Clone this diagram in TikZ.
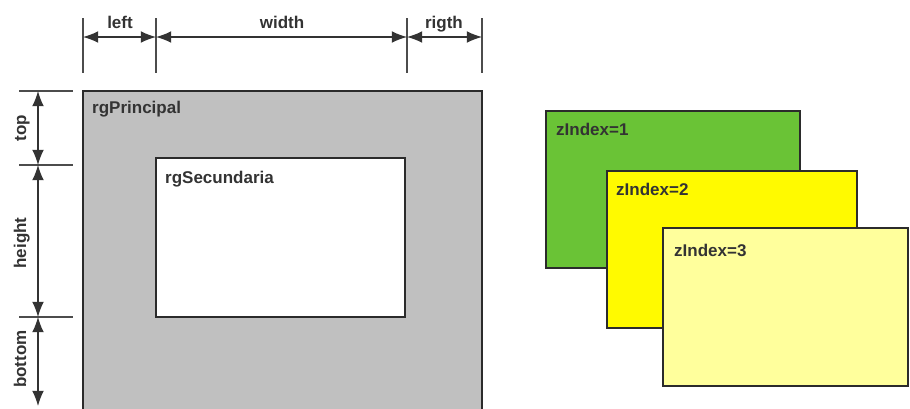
\documentclass[tikz,border=0pt]{standalone}
\usepackage{fontspec}
\setmainfont{Liberation Sans}
\usetikzlibrary{arrows.meta}

\definecolor{borde}{HTML}{2B2B2B}
\definecolor{texto}{HTML}{333333}
\definecolor{gris}{HTML}{C0C0C0}
\definecolor{verde}{HTML}{6AC336}
\definecolor{amarillo}{HTML}{FFFA00}
\definecolor{crema}{HTML}{FFFF9C}

\begin{document}
\begin{tikzpicture}[x=0.03cm, y=-0.03cm,
    caja/.style={draw=borde, line width=2pt},
    rotulo/.style={font=\bfseries\fontsize{14.5}{16}\selectfont, text=texto, inner sep=0pt},
    cota/.style={{Latex[length=13pt,width=10pt]}-{Latex[length=13pt,width=10pt]}, draw=texto, line width=1pt},
    guia/.style={draw=gray!60!black, line width=1.5pt}]

        \useasboundingbox (0,0) rectangle (910,408);

        % regiones principal y secundaria
        \draw[caja, fill=gris] (83,91) rectangle (482,420);
        \draw[caja, fill=white] (156,158) rectangle (405,317);
        \node[rotulo, anchor=base west] (principal) at (92,113) {rgPrincipal};
        \node[rotulo, anchor=base west] (secundaria) at (165,183) {rgSecundaria};

        % líneas guía horizontales (arriba)
        \foreach \n/\x in {a/83, b/156, c/407, d/482} {
            \coordinate (h\n) at (\x,37);
            \draw[guia] (\x,18) -- (\x,73);
        }
        % líneas guía verticales (izquierda)
        \foreach \n/\y in {a/91, b/165, c/317} {
            \coordinate (v\n) at (38,\y);
            \draw[guia] (19,\y) -- (73,\y);
        }
        \coordinate (vd) at (38,406);

        % cotas horizontales
        \draw[cota] (ha) -- (hb);
        \draw[cota] (hb) -- (hc);
        \draw[cota] (hc) -- (hd);
        \node[rotulo, anchor=base] (left) at (120,28) {left};
        \node[rotulo, anchor=base] (width) at (282,28) {width};
        \node[rotulo, anchor=base] (rigth) at (444,28) {rigth};

        % cotas verticales
        \draw[cota] (va) -- (vb);
        \draw[cota] (vb) -- (vc);
        \draw[cota] (vc) -- (vd);
        \node[rotulo, anchor=base, rotate=90] (top) at (26,128) {top};
        \node[rotulo, anchor=base, rotate=90] (height) at (26,243) {height};
        \node[rotulo, anchor=base, rotate=90] (bottom) at (26,359) {bottom};

        % capas con zIndex
        \draw[caja, fill=verde] (546,111) rectangle (800,268);
        \node[rotulo, anchor=base west] (z1) at (556,135) {zIndex=1};
        \draw[caja, fill=amarillo] (607,171) rectangle (857,328);
        \node[rotulo, anchor=base west] (z2) at (616,195) {zIndex=2};
        \draw[caja, fill=crema] (663,228) rectangle (908,386);
        \node[rotulo, anchor=base west] (z3) at (674,256) {zIndex=3};
    \end{tikzpicture}
\end{document}
